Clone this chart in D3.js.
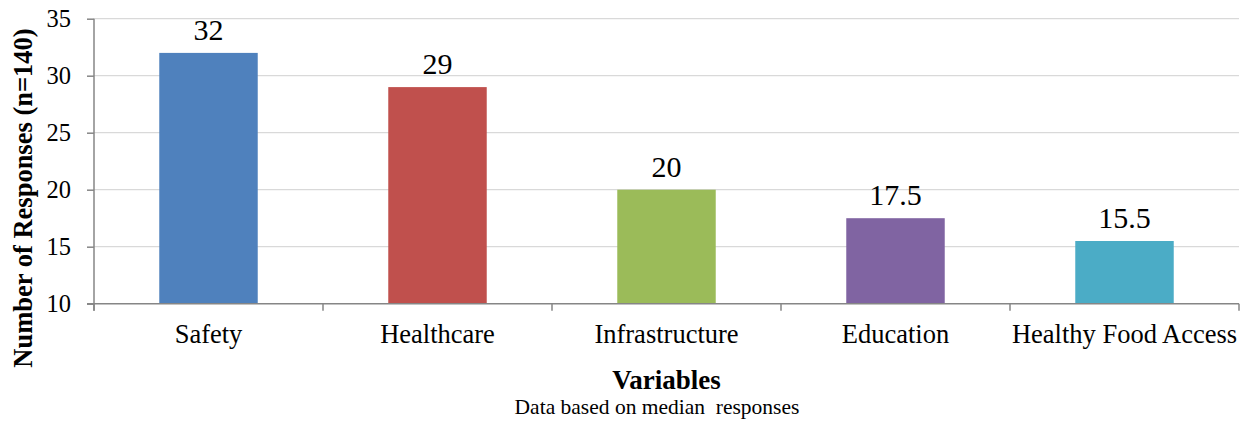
<!DOCTYPE html>
<html>
<head>
<meta charset="utf-8">
<script src="https://cdn.jsdelivr.net/npm/d3@7"></script>
<style>
  body { margin: 0; background: #fff; }
  svg { display: block; font-family: "Liberation Serif", "Times New Roman", serif; }
</style>
</head>
<body>
<svg id="grafico"></svg>
<script>
// dados
const categorias = ["Safety", "Healthcare", "Infrastructure", "Education", "Healthy Food Access"];
const valores = [32, 29, 20, 17.5, 15.5];
const cores = ["#4F81BD", "#C0504D", "#9BBB59", "#8064A2", "#4BACC6"];
const ticks_y = [10, 15, 20, 25, 30, 35];

const w = 1253, h = 423;
const PAD = { left: 94, right: 14, top: 18.7, bottom: 119.3 };

const $svg = d3.select("#grafico").attr("width", w).attr("height", h);

const x = d3.scaleBand()
  .domain(categorias)
  .range([PAD.left, w - PAD.right]);

const y = d3.scaleLinear()
  .domain([10, 35])
  .range([h - PAD.bottom, PAD.top]);

const larg_barra = x.step() * 0.43;

// grade
$svg.append("g")
  .selectAll("line")
  .data(ticks_y.slice(1))
  .join("line")
  .attr("x1", PAD.left)
  .attr("x2", w - PAD.right)
  .attr("y1", d => y(d))
  .attr("y2", d => y(d))
  .attr("stroke", "#D9D9D9")
  .attr("stroke-width", 1.3);

// barras
$svg.append("g")
  .selectAll("rect")
  .data(valores)
  .join("rect")
  .attr("x", (d, i) => x(categorias[i]) + x.bandwidth() / 2 - larg_barra / 2)
  .attr("y", d => y(d))
  .attr("width", larg_barra)
  .attr("height", d => y(10) - y(d))
  .attr("fill", (d, i) => cores[i]);

// rotulos de valor
$svg.append("g")
  .selectAll("text")
  .data(valores)
  .join("text")
  .attr("x", (d, i) => x(categorias[i]) + x.bandwidth() / 2)
  .attr("y", d => y(d) - 13)
  .attr("text-anchor", "middle")
  .attr("font-size", 30)
  .attr("fill", "#000")
  .text(d => d);

// eixo y
const eixo_y = d3.axisLeft(y).tickValues(ticks_y).tickSize(7).tickPadding(16);
const $gy = $svg.append("g")
  .attr("transform", `translate(${PAD.left},0)`)
  .call(eixo_y);
$gy.select(".domain").attr("stroke", "#868686").attr("stroke-width", 1.5)
  .attr("d", `M0,${y(10) + 7}V${y(35)}`);
$gy.selectAll(".tick line").attr("stroke", "#868686").attr("stroke-width", 1.5);
$gy.selectAll(".tick text")
  .attr("font-size", 24.5)
  .attr("font-family", "Liberation Serif")
  .attr("fill", "#000");

// eixo x
const limites = categorias.map(c => x(c)).concat([w - PAD.right]);
const $gx = $svg.append("g");
$gx.append("line")
  .attr("x1", PAD.left - 7)
  .attr("x2", w - PAD.right)
  .attr("y1", y(10))
  .attr("y2", y(10))
  .attr("stroke", "#868686")
  .attr("stroke-width", 1.5);
$gx.selectAll("line.tick")
  .data(limites)
  .join("line")
  .attr("class", "tick")
  .attr("x1", d => d)
  .attr("x2", d => d)
  .attr("y1", y(10))
  .attr("y2", y(10) + 7)
  .attr("stroke", "#868686")
  .attr("stroke-width", 1.5);
$gx.selectAll("text")
  .data(categorias)
  .join("text")
  .attr("x", d => x(d) + x.bandwidth() / 2)
  .attr("y", 343)
  .attr("text-anchor", "middle")
  .attr("font-size", 26.5)
  .text(d => d);

// titulos
$svg.append("text")
  .attr("transform", `translate(32,198) rotate(-90)`)
  .attr("text-anchor", "middle")
  .attr("font-size", 26.5)
  .attr("font-weight", "bold")
  .text("Number of Responses (n=140)");

$svg.append("text")
  .attr("x", (PAD.left + w - PAD.right) / 2)
  .attr("y", 389)
  .attr("text-anchor", "middle")
  .attr("font-size", 27)
  .attr("font-weight", "bold")
  .text("Variables");

$svg.append("text")
  .attr("x", 657)
  .attr("y", 414)
  .attr("text-anchor", "middle")
  .attr("font-size", 21.5)
  .style("white-space", "pre")
  .text("Data based on median  responses");
</script>
</body>
</html>
